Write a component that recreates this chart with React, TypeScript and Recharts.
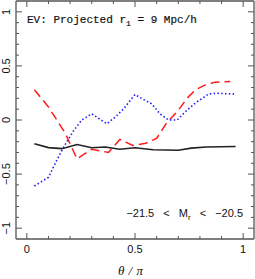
import { LineChart, Line, XAxis, YAxis } from "recharts";

const X_TICKS = [0, 0.1, 0.2, 0.3, 0.4, 0.5, 0.6, 0.7, 0.8, 0.9, 1];
const Y_TICKS = [
  -1, -0.9, -0.8, -0.7, -0.6, -0.5, -0.4, -0.3, -0.2, -0.1, 0, 0.1, 0.2, 0.3,
  0.4, 0.5, 0.6, 0.7, 0.8, 0.9, 1,
];

// red dashed
const redTheta = [0.035, 0.1, 0.139, 0.177, 0.232, 0.3, 0.377, 0.43, 0.49, 0.55, 0.6, 0.645, 0.7, 0.74, 0.78, 0.82, 0.87, 0.94];
const redValue = [0.28, 0.12, 0.0, -0.12, -0.36, -0.27, -0.3, -0.18, -0.235, -0.215, -0.17, -0.03, 0.09, 0.2, 0.28, 0.32, 0.35, 0.355];

// blue dotted
const blueTheta = [0.035, 0.1, 0.139, 0.17, 0.216, 0.254, 0.3, 0.37, 0.408, 0.446, 0.5, 0.53, 0.577, 0.615, 0.655, 0.695, 0.738, 0.784, 0.84, 0.876, 0.965];
const blueValue = [-0.61, -0.53, -0.37, -0.25, -0.1, 0.0, 0.057, -0.035, 0.026, 0.1, 0.235, 0.2, 0.15, 0.057, 0.0, 0.0, 0.087, 0.164, 0.24, 0.247, 0.24];

// black solid
const blackTheta = [0.035, 0.1, 0.162, 0.232, 0.3, 0.362, 0.43, 0.5, 0.584, 0.7, 0.76, 0.83, 0.965];
const blackValue = [-0.22, -0.255, -0.265, -0.227, -0.256, -0.25, -0.27, -0.256, -0.275, -0.28, -0.26, -0.25, -0.245];

const toRows = (t: number[], v: number[]) => t.map((theta, i) => ({ theta, value: v[i] }));

const FRAME = "#555";
const isMajor = (v: number) => Math.abs(v * 2 - Math.round(v * 2)) < 1e-6;
const fmt = (v: number) => (v < 0 ? "\u2212" + String(-v) : String(v));

const BottomTick = ({ x, y, payload }: any) => {
  const major = isMajor(payload.value);
  return (
    <g>
      <line x1={x} y1={y} x2={x} y2={y - (major ? 6 : 3)} stroke={FRAME} />
      {major && (
        <text x={x} y={y + 14} textAnchor="middle" fontSize={11} fontFamily="Liberation Sans" fill="#111">
          {fmt(payload.value)}
        </text>
      )}
    </g>
  );
};

const TopTick = ({ x, y, payload }: any) => (
  <line x1={x} y1={y} x2={x} y2={y + (isMajor(payload.value) ? 6 : 3)} stroke={FRAME} />
);

const LeftTick = ({ x, y, payload }: any) => {
  const major = isMajor(payload.value);
  return (
    <g>
      <line x1={x} y1={y} x2={x + (major ? 6 : 3)} y2={y} stroke={FRAME} />
      {major && (
        <text
          x={x - 6}
          y={y}
          transform={`rotate(-90 ${x - 6} ${y})`}
          textAnchor="middle"
          fontSize={11}
          fontFamily="Liberation Sans"
          fill="#111"
        >
          {fmt(payload.value)}
        </text>
      )}
    </g>
  );
};

const RightTick = ({ x, y, payload }: any) => (
  <line x1={x} y1={y} x2={x - (isMajor(payload.value) ? 6 : 3)} y2={y} stroke={FRAME} />
);

export default function App() {
  return (
    <div style={{ position: "absolute", left: 0, top: 0, width: 255, height: 279, background: "#fff" }}>
      <LineChart width={255} height={279} margin={{ top: 0, right: 0, bottom: 0, left: 0 }}>
        <XAxis
          xAxisId="b"
          dataKey="theta"
          type="number"
          domain={[-0.05, 1.05]}
          ticks={X_TICKS}
          interval={0}
          height={40}
          tickSize={0}
          tickMargin={0}
          tickLine={false}
          axisLine={{ stroke: FRAME, strokeWidth: 1.3 }}
          tick={<BottomTick />}
          allowDataOverflow
        />
        <XAxis
          xAxisId="t"
          orientation="top"
          dataKey="theta"
          type="number"
          domain={[-0.05, 1.05]}
          ticks={X_TICKS}
          interval={0}
          height={1}
          tickSize={0}
          tickMargin={0}
          tickLine={false}
          axisLine={{ stroke: FRAME, strokeWidth: 1.3 }}
          tick={<TopTick />}
          allowDataOverflow
        />
        <YAxis
          yAxisId="l"
          type="number"
          domain={[-1.1, 1.1]}
          ticks={Y_TICKS}
          interval={0}
          width={16}
          tickSize={0}
          tickMargin={0}
          tickLine={false}
          axisLine={{ stroke: FRAME, strokeWidth: 1.3 }}
          tick={<LeftTick />}
          allowDataOverflow
        />
        <YAxis
          yAxisId="r"
          orientation="right"
          type="number"
          domain={[-1.1, 1.1]}
          ticks={Y_TICKS}
          interval={0}
          width={1}
          tickSize={0}
          tickMargin={0}
          tickLine={false}
          axisLine={{ stroke: FRAME, strokeWidth: 1.3 }}
          tick={<RightTick />}
          allowDataOverflow
        />
        <Line
          xAxisId="b"
          yAxisId="l"
          data={toRows(blackTheta, blackValue)}
          dataKey="value"
          type="linear"
          stroke="#222"
          strokeWidth={1.6}
          dot={false}
          isAnimationActive={false}
        />
        <Line
          xAxisId="b"
          yAxisId="l"
          data={toRows(redTheta, redValue)}
          dataKey="value"
          type="linear"
          stroke="#ff1a1a"
          strokeWidth={1.5}
          strokeDasharray="9 5"
          dot={false}
          isAnimationActive={false}
        />
        <Line
          xAxisId="b"
          yAxisId="l"
          data={toRows(blueTheta, blueValue)}
          dataKey="value"
          type="linear"
          stroke="#1a1aff"
          strokeWidth={1.6}
          strokeDasharray="1.5 2.3"
          dot={false}
          isAnimationActive={false}
        />
      </LineChart>
      <svg
        width={255}
        height={279}
        style={{ position: "absolute", left: 0, top: 0, pointerEvents: "none", whiteSpace: "pre" }}
      >
        <text x={27} y={22.5} fontSize={11} fontFamily="Liberation Mono" fill="#111" stroke="#111" strokeWidth={0.2}>
          EV: Projected r<tspan fontSize={8} dy={3}>1</tspan>
          <tspan dy={-3}> = 9 Mpc/h</tspan>
        </text>
        <text x={243} y={217} textAnchor="end" fontSize={11} fontFamily="Liberation Sans" fill="#111" wordSpacing={6}>
          {"\u221221.5 < M"}
          <tspan fontSize={8} dy={3}>r</tspan>
          <tspan dy={-3}>{" < \u221220.5"}</tspan>
        </text>
        <text x={130.5} y={275} textAnchor="middle" fontSize={13} fontStyle="italic" fontFamily="Liberation Serif" fill="#111" wordSpacing={1}>
          {"\u03b8 / \u03c0"}
        </text>
      </svg>
    </div>
  );
}
